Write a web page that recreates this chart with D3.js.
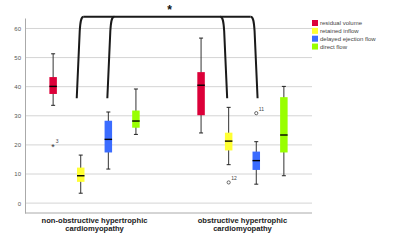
<!DOCTYPE html>
<html>
<head>
<meta charset="utf-8">
<script src="https://d3js.org/d3.v7.min.js"></script>
<style>
  body { margin: 0; background: #fff; }
  text { font-family: "Liberation Sans", Arial, sans-serif; }
</style>
</head>
<body>
<div id="chart"></div>
<script>
// groups and series
var groups = ["non-obstructive hypertrophic cardiomyopathy", "obstructive hypertrophic cardiomyopathy"];
var groupLines = [["non-obstructive hypertrophic", "cardiomyopathy"], ["obstructive hypertrophic", "cardiomyopathy"]];
var series = ["residual volume", "retained inflow", "delayed ejection flow", "direct flow"];
var colors = ["#dc0039", "#ffff33", "#3b6cff", "#99ff00"];

// box stats per group: [min, q1, median, q3, max]
var nonObstructive = [
  [33.6, 37.5, 40.1, 43.3, 51.3],
  [3.4, 7.3, 9.4, 12.2, 16.5],
  [11.7, 17.4, 21.9, 28.3, 31.3],
  [23.6, 25.9, 28.2, 31.8, 39.2]
];
var obstructive = [
  [24.1, 30.2, 40.5, 45.0, 56.7],
  [13.2, 18.1, 21.3, 24.2, 32.9],
  [6.5, 11.4, 14.6, 17.7, 21.1],
  [9.4, 17.4, 23.4, 36.4, 40.1]
];

// outliers: group index, series index, value, case label, type
var outliers = [
  { g: 0, s: 0, v: 19.8, label: "3", type: "extreme" },
  { g: 1, s: 1, v: 7.1, label: "12", type: "circle" },
  { g: 1, s: 2, v: 30.9, label: "11", type: "circle" }
];

var yTicks = [0, 10, 20, 30, 40, 50, 60];
var bracketBase = 36;   // value where bracket legs end
var bracketTop = 64;
// bracket legs: group, series, small nudge in px
var bracketLegs = [
  { g: 0, s: 1, dx: -4, dir: 1 },
  { g: 0, s: 2, dx: -1, dir: 1 },
  { g: 1, s: 1, dx: -1.5, dir: -1 },
  { g: 1, s: 2, dx: 1.3, dir: -1 }
];

var width = 400, height = 245;
var mLeft = 25, mRight = 312, mTop = 18, mBottom = 213;

var svg = d3.select("#chart").append("svg")
  .attr("width", width)
  .attr("height", height);

var x0 = d3.scalePoint().domain(groups).range([mLeft, mRight]).padding(0.47);
var x1 = d3.scalePoint().domain(series).range([-41.4, 41.4]);
var y = d3.scaleLinear().domain([-3.4, 63.6]).range([mBottom, mTop]);

// grid lines
svg.selectAll(".grid").data(yTicks).enter().append("line")
  .attr("x1", mLeft).attr("x2", mRight)
  .attr("y1", function(d){ return y(d); })
  .attr("y2", function(d){ return y(d); })
  .attr("stroke", "#d4d4d4").attr("stroke-width", 1);

// y axis
var yAxis = svg.append("g").attr("transform", "translate(" + mLeft + ",0)")
  .call(d3.axisLeft(y).tickValues(yTicks).tickSize(0).tickPadding(4));
yAxis.select(".domain").attr("stroke", "#aaa");
yAxis.selectAll("text").attr("fill", "#555").style("font-size", "6px");

// x axis line
svg.append("line")
  .attr("x1", mLeft).attr("x2", mRight)
  .attr("y1", mBottom).attr("y2", mBottom)
  .attr("stroke", "#aaa");

// category labels
groupLines.forEach(function(lines, i){
  svg.append("text")
    .attr("x", x0(groups[i]))
    .attr("text-anchor", "middle")
    .attr("fill", "#222")
    .style("font-size", "7.6px")
    .style("font-weight", "bold")
    .selectAll("tspan").data(lines).enter().append("tspan")
    .attr("x", x0(groups[i]))
    .attr("y", function(d, j){ return 223 + j * 8.3; })
    .text(function(d){ return d; });
});

// boxes
var boxW = 7.5;
var rows = [];
[nonObstructive, obstructive].forEach(function(stats, gi){
  stats.forEach(function(st, si){
    rows.push({ g: groups[gi], s: series[si], si: si, st: st });
  });
});

var box = svg.selectAll(".box").data(rows).enter().append("g")
  .attr("class", "box")
  .attr("transform", function(d){ return "translate(" + (x0(d.g) + x1(d.s)) + ",0)"; });

box.append("line")
  .attr("x1", 0).attr("x2", 0)
  .attr("y1", function(d){ return y(d.st[0]); })
  .attr("y2", function(d){ return y(d.st[4]); })
  .attr("stroke", "#333").attr("stroke-width", 1);

box.selectAll(".cap").data(function(d){ return [d.st[0], d.st[4]]; }).enter().append("line")
  .attr("x1", -2).attr("x2", 2)
  .attr("y1", function(v){ return y(v); })
  .attr("y2", function(v){ return y(v); })
  .attr("stroke", "#222").attr("stroke-width", 1);

box.append("rect")
  .attr("x", -boxW / 2).attr("width", boxW)
  .attr("y", function(d){ return y(d.st[3]); })
  .attr("height", function(d){ return y(d.st[1]) - y(d.st[3]); })
  .attr("fill", function(d){ return colors[d.si]; });

box.append("line")
  .attr("x1", -boxW / 2).attr("x2", boxW / 2)
  .attr("y1", function(d){ return y(d.st[2]); })
  .attr("y2", function(d){ return y(d.st[2]); })
  .attr("stroke", "#000").attr("stroke-width", 1.4);

// outliers
outliers.forEach(function(o){
  var cx = x0(groups[o.g]) + x1(series[o.s]);
  var cy = y(o.v);
  if (o.type === "circle") {
    svg.append("circle").attr("cx", cx).attr("cy", cy).attr("r", 1.6)
      .attr("fill", "none").attr("stroke", "#444").attr("stroke-width", 0.8);
  } else {
    svg.append("text").attr("x", cx).attr("y", cy + 4.5)
      .attr("text-anchor", "middle").attr("fill", "#333")
      .style("font-size", "9px").text("*");
  }
  svg.append("text").attr("x", cx + 2.5).attr("y", cy - 2.5)
    .attr("fill", "#444").style("font-size", "5px").text(o.label);
});

// significance bracket
var yb = y(bracketBase), yt = y(bracketTop);
function legX(l) { return x0(groups[l.g]) + x1(series[l.s]) + l.dx; }
function legPath(l) {
  var xb = legX(l), d = l.dir;
  return "M" + xb + "," + yb +
    " L" + (xb + d * 3) + "," + (yt + 14) +
    " C" + (xb + d * 3.6) + "," + (yt + 5) + " " + (xb + d * 4.2) + "," + yt + " " + (xb + d * 7) + "," + yt;
}
var br = svg.append("g").attr("fill", "none").attr("stroke", "#1a1a1a")
  .attr("stroke-width", 2).attr("stroke-linejoin", "round");
br.selectAll("path").data(bracketLegs).enter().append("path")
  .attr("d", legPath);
br.append("line")
  .attr("x1", legX(bracketLegs[0]) + 7)
  .attr("x2", legX(bracketLegs[3]) - 7)
  .attr("y1", yt).attr("y2", yt);

svg.append("text")
  .attr("x", (x0(groups[0]) + x0(groups[1])) / 2 + 1)
  .attr("y", 14)
  .attr("text-anchor", "middle")
  .attr("fill", "#111")
  .style("font-size", "12px")
  .style("font-weight", "bold")
  .text("*");

// legend
var legend = svg.selectAll(".legend").data(series).enter().append("g")
  .attr("transform", function(d, i){ return "translate(312," + (20 + i * 7.85) + ")"; });
legend.append("rect").attr("width", 6).attr("height", 6)
  .attr("fill", function(d, i){ return colors[i]; });
legend.append("text").attr("x", 8).attr("y", 5.3)
  .attr("fill", "#444").style("font-size", "6px")
  .text(function(d){ return d; });
</script>
</body>
</html>
